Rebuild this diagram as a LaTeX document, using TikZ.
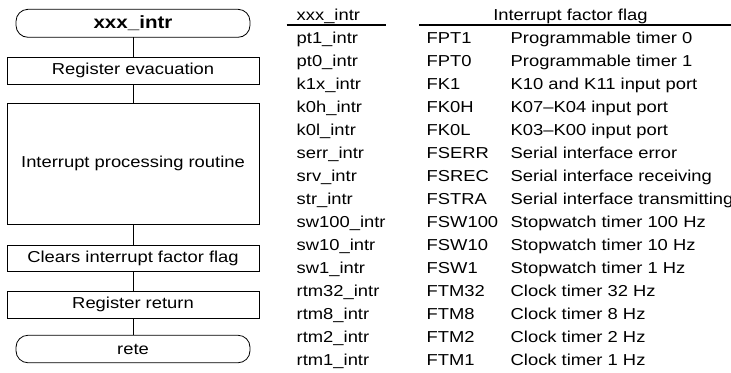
\documentclass[tikz,border=0pt]{standalone}
\usepackage{fontspec}
\setmainfont{Liberation Sans}[FakeStretch=1.16]
\begin{document}
\begin{tikzpicture}[x=1bp,y=-1bp,
  every node/.style={inner sep=0pt, outer sep=0pt, font=\fontsize{15.9}{19}\selectfont},
  term/.style={draw, line width=0.8bp, rounded corners=12bp, minimum width=234bp, minimum height=28bp},
  procbox/.style={draw, line width=0.8bp, minimum width=252bp},
  cell/.style={anchor=base west},
  link/.style={line width=0.8bp},
  rule/.style={line width=1.2bp}]
\useasboundingbox (0,0) rectangle (731,372);
\clip (0,0) rectangle (731,372);

% flowchart
\node[term] (t1) at (133,23.3) {\fontsize{17.8}{20}\selectfont\bfseries xxx\_intr};
\node[procbox, minimum height=27bp] (b1) at (133,70.5) {Register evacuation};
\node[procbox, minimum height=121bp] (b2) at (133,163.5) {Interrupt processing routine};
\node[procbox, minimum height=26bp] (b3) at (133,258) {Clears interrupt factor flag};
\node[procbox, minimum height=27bp] (b4) at (133,304.5) {Register return};
\node[term, minimum height=27.5bp] (t2) at (133,349) {rete};
\draw[link] (t1) -- (b1);
\draw[link] (b1) -- (b2);
\draw[link] (b2) -- (b3);
\draw[link] (b3) -- (b4);
\draw[link] (b4) -- (t2);

% table header
\node[cell] (h1) at (296.7,20.7) {xxx\_intr};
\node[cell] (h2) at (493.3,20.7) {Interrupt factor flag};
\coordinate (u1a) at (286.7,25);
\coordinate (u1b) at (386,25);
\coordinate (u2a) at (419.3,25);
\coordinate (u2b) at (731,25);
\draw[rule] (u1a) -- (u1b);
\draw[rule] (u2a) -- (u2b);

% table rows
\foreach \na/\fl/\de [count=\k] in {
  pt1\_intr/FPT1/Programmable timer 0,
  pt0\_intr/FPT0/Programmable timer 1,
  k1x\_intr/FK1/K10 and K11 input port,
  k0h\_intr/FK0H/K07–K04 input port,
  k0l\_intr/FK0L/K03–K00 input port,
  serr\_intr/FSERR/Serial interface error,
  srv\_intr/FSREC/Serial interface receiving,
  str\_intr/FSTRA/Serial interface transmitting,
  sw100\_intr/FSW100/Stopwatch timer 100 Hz,
  sw10\_intr/FSW10/Stopwatch timer 10 Hz,
  sw1\_intr/FSW1/Stopwatch timer 1 Hz,
  rtm32\_intr/FTM32/Clock timer 32 Hz,
  rtm8\_intr/FTM8/Clock timer 8 Hz,
  rtm2\_intr/FTM2/Clock timer 2 Hz,
  rtm1\_intr/FTM1/Clock timer 1 Hz}{
  \node[cell] (ra\k) at (296.7,20.7+23*\k) {\na};
  \node[cell] (rb\k) at (426.7,20.7+23*\k) {\fl};
  \node[cell] (rc\k) at (510.7,20.7+23*\k) {\de};
}
\end{tikzpicture}
\end{document}
